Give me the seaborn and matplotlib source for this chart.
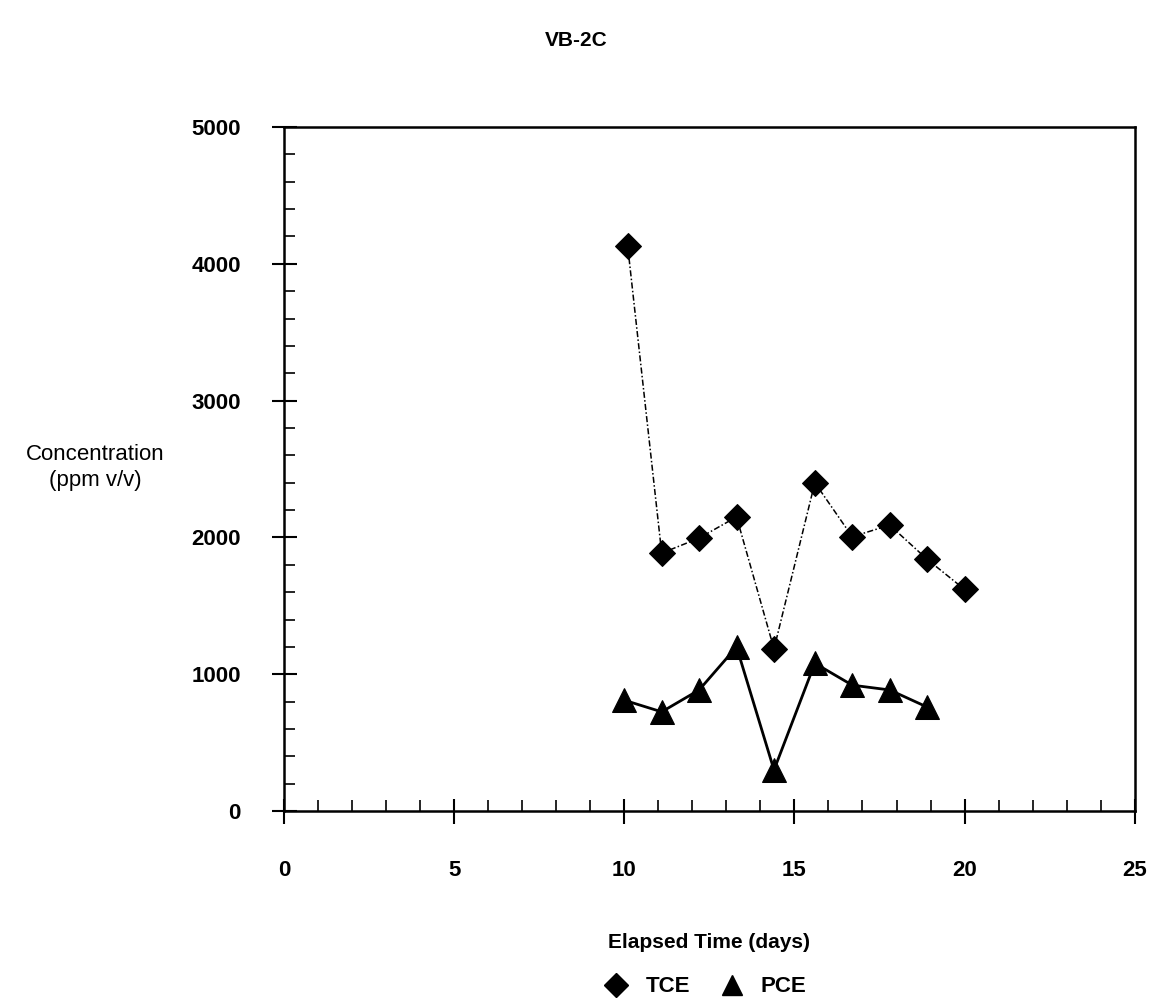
import pandas as pd
import seaborn as sns
import matplotlib.pyplot as plt
from matplotlib.lines import Line2D
from matplotlib.ticker import MultipleLocator

# dados
dias_tce = [10.1, 11.1, 12.2, 13.3, 14.4, 15.6, 16.7, 17.8, 18.9, 20.0]
tce = [4130, 1885, 1995, 2150, 1185, 2400, 2005, 2090, 1840, 1620]

dias_pce = [10.0, 11.1, 12.2, 13.3, 14.4, 15.6, 16.7, 17.8, 18.9]
pce = [810, 725, 885, 1200, 300, 1080, 920, 885, 760]

x_ticks = [0, 5, 10, 15, 20, 25]
y_ticks = [0, 1000, 2000, 3000, 4000, 5000]

df_tce = pd.DataFrame({'Dias': dias_tce, 'Conc': tce})
df_pce = pd.DataFrame({'Dias': dias_pce, 'Conc': pce})

sns.set_style("ticks")
plt.rcParams['font.family'] = ['Liberation Sans', 'DejaVu Sans']
plt.rcParams['text.color'] = 'black'
plt.rcParams['axes.labelcolor'] = 'black'

fig = plt.figure(figsize=(11.52, 10.07), dpi=100)
ax = fig.add_axes([0.2465, 0.1946, 0.7385, 0.6793])

sns.lineplot(x='Dias', y='Conc', data=df_tce, color='black', linewidth=1.1,
             linestyle=(0, (4, 1.5, 1, 1.5)), marker='D', markersize=13,
             markeredgecolor='black', ax=ax)
sns.lineplot(x='Dias', y='Conc', data=df_pce, color='black', linewidth=2,
             marker='^', markersize=17, markeredgecolor='black', ax=ax)

ax.set_xlim(0, 25)
ax.set_ylim(0, 5000)
ax.set_xticks(x_ticks)
ax.set_yticks(y_ticks)
ax.xaxis.set_minor_locator(MultipleLocator(1))
ax.yaxis.set_minor_locator(MultipleLocator(200))

for s in ax.spines.values():
    s.set_linewidth(1.8)
    s.set_color('black')

ax.tick_params(axis='both', which='major', direction='inout', length=18, width=1.5,
               labelsize=16, colors='black')
ax.tick_params(axis='x', which='major', pad=26)
ax.tick_params(axis='y', which='major', pad=22)
ax.tick_params(axis='both', which='minor', direction='in', length=8, width=1.2,
               colors='black')
for lab in ax.get_xticklabels() + ax.get_yticklabels():
    lab.set_fontweight('bold')

ax.set_xlabel('Elapsed Time (days)', fontsize=15, fontweight='bold', labelpad=38,
              color='black')
ax.set_ylabel('')
fig.text(0.083, 0.536, 'Concentration\n(ppm v/v)', ha='center', va='center',
         fontsize=16, linespacing=1.3, color='black')
fig.text(0.5, 0.96, 'VB-2C', ha='center', va='center', fontsize=15,
         fontweight='bold', color='black')

handles = [Line2D([], [], color='black', marker='D', linestyle='none', markersize=12),
           Line2D([], [], color='black', marker='^', linestyle='none', markersize=15)]
fig.legend(handles, ['TCE', 'PCE'], loc='center', bbox_to_anchor=(0.608, 0.02),
           ncol=2, frameon=False, prop={'size': 16, 'weight': 'bold'},
           handletextpad=0.3, columnspacing=0.9)

plt.savefig('out.png', dpi=100)
